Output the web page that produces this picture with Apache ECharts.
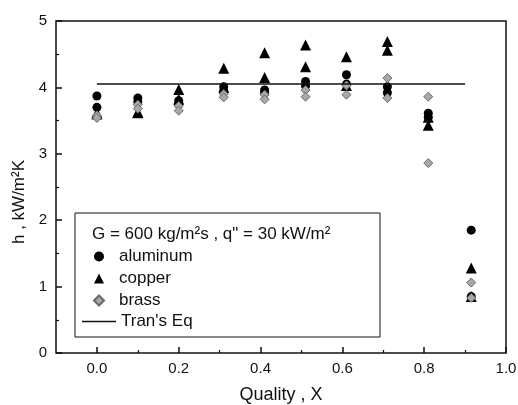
<!DOCTYPE html>
<html>
<head>
<meta charset="utf-8">
<script src="https://cdn.jsdelivr.net/npm/echarts@6/dist/echarts.min.js"></script>
<style>
html, body { margin: 0; padding: 0; background: #fff; }
#chart { width: 518px; height: 405px; }
</style>
</head>
<body>
<div id="chart"></div>
<script>
// quality positions of the measurement columns
var quality = [0.0, 0.1, 0.2, 0.31, 0.41, 0.51, 0.61, 0.71, 0.81, 0.915]
// two runs per tube material, h in kW/m2K
var aluminumA = [3.87, 3.84, 3.80, 4.01, 3.96, 4.09, 4.19, 4.01, 3.61, 1.85]
var aluminumB = [3.70, 3.78, 3.75, 3.95, 3.92, 4.02, 4.05, 3.92, 3.55, 0.85]
var copperA = [3.62, 3.63, 3.97, 4.29, 4.52, 4.64, 4.46, 4.69, 3.55, 1.28]
var copperB = [3.60, 3.62, 3.82, 4.00, 4.15, 4.31, 4.03, 4.56, 3.43, 0.85]
var brassA = [3.58, 3.74, 3.72, 3.90, 3.89, 3.96, 4.03, 4.14, 3.86, 1.06]
var brassB = [3.54, 3.68, 3.65, 3.85, 3.82, 3.86, 3.89, 3.84, 2.86, 0.83]
// Tran's correlation, flat line
var tranX = [0.0, 0.9]
var tranY = [4.05, 4.05]
var xMajor = [0, 0.2, 0.4, 0.6, 0.8, 1.0]
var xMinor = [0.1, 0.3, 0.5, 0.7, 0.9]

function pairs(xs, a, b){
	var out = []
	xs.forEach((x,i) => {
		out.push([x, a[i]])
		if(b) out.push([x, b[i]])
	})
	return out
}

var font = 'Liberation Sans, Arial, sans-serif'
var ink = '#111'

const option = {
	animation: false,
	backgroundColor: '#fff',
	grid: {
		left: 56, top: 21, right: 12, bottom: 52,
		outerBoundsMode: 'none', containLabel: false,
		show: true, borderColor: ink, borderWidth: 1.5
	},
	title: {
		text: 'G = 600 kg/m\u00b2s , q" = 30 kW/m\u00b2',
		left: 92, top: 226, padding: 0,
		textStyle: { fontFamily: font, fontSize: 17, fontWeight: 'normal', color: ink }
	},
	legend: [
		{
			orient: 'vertical',
			left: 93, top: 248, padding: 0,
			itemWidth: 10, itemHeight: 10, itemGap: 5,
			data: ['aluminum','copper','brass'],
			textStyle: { fontFamily: font, fontSize: 17, color: ink, padding: [0,0,0,10] }
		},
		{
			left: 82, top: 313, padding: 0,
			itemWidth: 34, itemHeight: 1.5,
			data: [{ name: "Tran's Eq", icon: 'rect' }],
			itemStyle: { color: ink },
			textStyle: { fontFamily: font, fontSize: 17, color: ink }
		}
	],
	graphic: [{
		type: 'rect',
		shape: { x: 75, y: 213, width: 305, height: 124 },
		style: { fill: '#fff', stroke: ink, lineWidth: 1 },
		z: 1
	}],
	xAxis: [
		{
			type: 'value', min: -0.1, max: 1.0,
			name: 'Quality , X', nameLocation: 'middle', nameGap: 33,
			nameTextStyle: { fontFamily: font, fontSize: 18, color: ink },
			axisLine: { show: false, onZero: false },
			axisTick: { inside: true, length: 6, customValues: xMajor, lineStyle: { color: ink, width: 1.5 } },
			axisLabel: { customValues: xMajor, margin: 8, fontFamily: font, fontSize: 15, color: ink,
				formatter: v => v.toFixed(1) },
			splitLine: { show: false }
		},
		{
			type: 'value', min: -0.1, max: 1.0, position: 'bottom',
			axisLine: { show: false, onZero: false },
			axisTick: { inside: true, length: 3, customValues: xMinor, lineStyle: { color: ink, width: 1.2 } },
			axisLabel: { show: false },
			splitLine: { show: false }
		}
	],
	yAxis: {
		type: 'value', min: 0, max: 5, interval: 1,
		name: 'h , kW/m\u00b2K', nameLocation: 'middle', nameGap: 28,
		nameTextStyle: { fontFamily: font, fontSize: 17, color: ink, padding: [0, 30, 0, 0] },
		axisLine: { show: false, onZero: false },
		axisTick: { inside: true, length: 6, lineStyle: { color: ink, width: 1.5 } },
		minorTick: { show: true, splitNumber: 2, length: 3, lineStyle: { color: ink, width: 1.2 } },
		axisLabel: { margin: 9, fontFamily: font, fontSize: 15, color: ink },
		splitLine: { show: false }
	},
	series: [
		{
			name: "Tran's Eq", type: 'line', symbol: 'none',
			data: pairs(tranX, tranY),
			lineStyle: { color: ink, width: 1.5 },
			itemStyle: { color: ink }
		},
		{
			name: 'copper', type: 'scatter', symbol: 'triangle', symbolSize: 11,
			data: pairs(quality, copperA, copperB),
			itemStyle: { color: '#000', opacity: 1 }
		},
		{
			name: 'aluminum', type: 'scatter', symbol: 'circle', symbolSize: 9,
			data: pairs(quality, aluminumA, aluminumB),
			itemStyle: { color: '#000', opacity: 1 }
		},
		{
			name: 'brass', type: 'scatter', symbol: 'diamond', symbolSize: 9,
			data: pairs(quality, brassA, brassB),
			itemStyle: { color: '#a8a8a8', borderColor: '#6a6a6a', borderWidth: 1, opacity: 1 }
		}
	]
}

let myChart = echarts.init(document.getElementById('chart'))
myChart.setOption(option)
</script>
</body>
</html>
